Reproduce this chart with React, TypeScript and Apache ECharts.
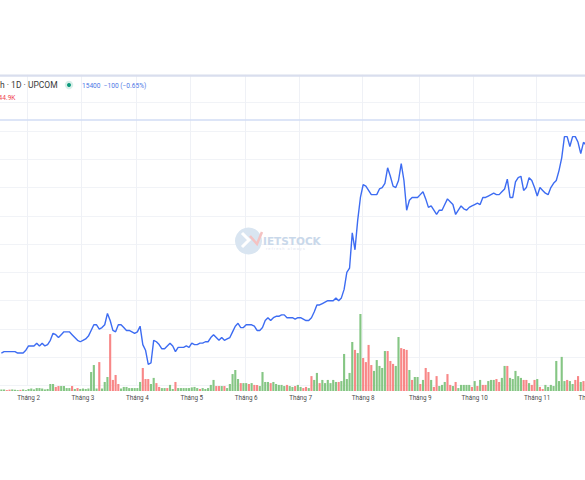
import React, { useEffect, useRef } from "react";
import * as echarts from "echarts";

// Month labels and the index of the first trading day of each month
const monthLabels = ["Tháng 2", "Tháng 3", "Tháng 4", "Tháng 5", "Tháng 6", "Tháng 7", "Tháng 8", "Tháng 9", "Tháng 10", "Tháng 11", "Tháng 12"];
const monthStartIndex = [10, 30, 50, 70, 90, 110, 133, 154, 174, 197, 217];
const dayCount = 218;

// Daily close (VND)
const closePrices = [
  8050, 8100, 8100, 8100, 8100, 8100, 8050, 8050, 8050, 8150,
  8300, 8300, 8300, 8400, 8300, 8400, 8300, 8350, 8500, 8750,
  8700, 8600, 8700, 8800, 8800, 8800, 8700, 8600, 8500, 8450,
  8500, 8550, 8650, 8850, 9050, 9050, 8900, 8950, 9050, 9450,
  9200, 8850, 8800, 9050, 9050, 8950, 8850, 8850, 8800, 8750,
  8800, 9000, 8350, 8150, 7650, 7700, 8500, 8450, 8350, 8200,
  8200, 8300, 8400, 8300, 8100, 8250, 8250, 8250, 8300, 8250,
  8400, 8350, 8350, 8400, 8400, 8450, 8450, 8600, 8700, 8600,
  8500, 8600, 8500, 8550, 8600, 8800, 9000, 9100, 8950, 8950,
  9050, 9050, 9050, 9000, 8850, 8850, 8950, 9200, 9300, 9200,
  9300, 9350, 9350, 9400, 9400, 9300, 9300, 9300, 9250, 9300,
  9300, 9250, 9200, 9200, 9300, 9500, 9750, 9750, 9800, 9850,
  9900, 9900, 9900, 10000, 9900, 10000, 10300, 10900, 11050, 12300,
  11700, 12750, 13550, 14000, 13950, 13800, 13650, 13650, 13650, 13850,
  13900, 14050, 14600, 14300, 13950, 13900, 14150, 14750, 14150, 13100,
  13450, 13550, 13550, 13550, 13650, 13750, 13500, 13200, 13250, 13100,
  12950, 13100, 13100, 13300, 13500, 13400, 13300, 12950, 13100, 13250,
  13150, 13100, 13200, 13250, 13300, 13350, 13300, 13550, 13550, 13600,
  13650, 13700, 13650, 13650, 13750, 13850, 14200, 13550, 13550, 14100,
  14250, 14300, 13800, 13900, 14250, 14150, 13900, 13600, 13900, 13800,
  13700, 13650, 13900, 14050, 14150, 14500, 14950, 15700, 15700, 15350,
  15700, 15700, 15500, 15100, 15500, 15400
];

// Daily volume (thousand shares)
const volumesK = [
  7, 7, 4, 6, 7, 6, 4, 5, 7, 4,
  9, 11, 7, 13, 13, 11, 7, 9, 31, 31,
  18, 22, 22, 22, 13, 13, 22, 9, 13, 9,
  11, 9, 11, 84, 115, 11, 128, 11, 40, 62,
  252, 49, 71, 31, 11, 18, 18, 13, 13, 13,
  13, 40, 102, 53, 53, 31, 58, 35, 18, 13,
  13, 13, 27, 9, 40, 13, 13, 13, 13, 13,
  16, 18, 13, 9, 13, 9, 13, 27, 49, 22,
  22, 22, 22, 13, 31, 75, 93, 53, 35, 35,
  35, 31, 35, 27, 27, 22, 84, 40, 40, 35,
  40, 31, 27, 27, 22, 27, 22, 18, 22, 27,
  18, 13, 18, 13, 66, 49, 80, 35, 49, 35,
  49, 35, 49, 40, 40, 44, 164, 53, 80, 217,
  182, 168, 341, 146, 128, 204, 115, 89, 137, 111,
  102, 177, 177, 133, 120, 111, 239, 190, 186, 182,
  93, 49, 62, 62, 31, 49, 102, 84, 49, 18,
  66, 22, 27, 40, 75, 27, 22, 40, 13, 27,
  27, 27, 27, 18, 44, 22, 49, 27, 27, 44,
  49, 49, 53, 40, 58, 111, 111, 58, 53, 89,
  66, 58, 49, 49, 35, 27, 49, 53, 18, 9,
  27, 18, 27, 22, 133, 44, 151, 44, 49, 44,
  31, 49, 66, 40, 44, 44.9
];

// 1 = session closed up (green volume), 0 = down (red volume)
const upDays = [
  1, 1, 0, 0, 1, 1, 1, 0, 1, 1,
  1, 1, 1, 1, 1, 1, 1, 1, 1, 1,
  0, 0, 1, 1, 1, 1, 0, 1, 0, 1,
  1, 1, 1, 1, 1, 1, 0, 1, 1, 1,
  0, 0, 0, 0, 1, 1, 1, 1, 1, 1,
  1, 1, 0, 0, 0, 1, 1, 0, 0, 1,
  1, 0, 1, 1, 0, 1, 1, 1, 1, 1,
  1, 1, 1, 0, 1, 1, 1, 1, 1, 0,
  0, 1, 0, 1, 1, 1, 1, 1, 0, 1,
  1, 0, 1, 0, 0, 1, 1, 1, 1, 0,
  1, 1, 1, 1, 1, 0, 1, 1, 0, 1,
  1, 0, 0, 1, 0, 1, 1, 0, 1, 1,
  1, 1, 1, 1, 0, 1, 1, 1, 1, 1,
  0, 1, 1, 0, 0, 0, 0, 1, 1, 1,
  1, 1, 0, 0, 0, 1, 1, 0, 0, 0,
  1, 0, 1, 1, 0, 1, 0, 0, 1, 0,
  0, 1, 1, 1, 0, 0, 1, 0, 1, 1,
  1, 1, 1, 0, 1, 0, 1, 0, 0, 1,
  1, 1, 0, 0, 1, 1, 0, 1, 1, 1,
  1, 1, 0, 0, 1, 0, 0, 1, 0, 0,
  1, 1, 1, 1, 1, 1, 1, 1, 0, 1,
  1, 0, 0, 1, 0, 0
];

const legendTitle = "h · 1D · UPCOM";
const legendQuote = "15400  −100 (−0.65%)";
const legendVolume = "44.9K";

const FONT = "Roboto, 'Liberation Sans', Arial, sans-serif";

export default function App() {
  const ref = useRef<HTMLDivElement>(null);

  useEffect(() => {
    if (!ref.current) return;
    const chart = echarts.init(ref.current, undefined, { renderer: "svg" });
    const categories = Array.from({ length: dayCount }, (_, i) => "d" + i);
    const isMonthStart = (idx: number) => monthStartIndex.indexOf(idx) >= 0;
    const gridLR = { left: 0, right: -8, outerBoundsMode: "none", containLabel: false };

    chart.setOption({
      animation: false,
      backgroundColor: "#ffffff",
      grid: [
        { ...gridLR, top: 74.4, bottom: 94.4 },
        { ...gridLR, top: 74.4, bottom: 94.4 },
        { ...gridLR, top: 120, bottom: 89 },
      ],
      xAxis: [
        {
          type: "category",
          gridIndex: 0,
          data: categories,
          boundaryGap: true,
          axisLine: { show: false },
          axisTick: { show: false },
          axisLabel: {
            interval: (idx: number) => isMonthStart(idx),
            formatter: (_v: string, idx: number) => {
              const k = monthStartIndex.indexOf(idx);
              return k >= 0 ? monthLabels[k] : "";
            },
            color: "#4a4a4a",
            fontSize: 6.3,
            fontFamily: FONT,
            margin: 9,
          },
          splitLine: {
            show: true,
            interval: (idx: number) => isMonthStart(idx),
            lineStyle: { color: "#eff1f6", width: 1 },
          },
        },
        { type: "category", gridIndex: 1, data: categories, boundaryGap: true, show: false },
        { type: "category", gridIndex: 2, data: categories, boundaryGap: true, show: false },
      ],
      yAxis: [
        {
          type: "value",
          gridIndex: 0,
          inverse: true,
          min: 0,
          max: 11,
          interval: 1,
          axisLine: { show: false },
          axisTick: { show: false },
          axisLabel: { show: false },
          splitLine: { show: true, lineStyle: { color: "#f1f3f7", width: 1 } },
        },
        { type: "value", gridIndex: 1, min: 6900, max: 17900, show: false, splitLine: { show: false } },
        { type: "value", gridIndex: 2, min: 0, max: 1200, show: false, splitLine: { show: false } },
      ],
      graphic: [
        { type: "line", z: 5, shape: { x1: 0, y1: 75.8, x2: 585, y2: 75.8 }, style: { stroke: "#d9deee", lineWidth: 2 } },
        { type: "line", z: 5, shape: { x1: 0, y1: 120, x2: 585, y2: 120 }, style: { stroke: "#d2ddf4", lineWidth: 1.5 } },
        { type: "text", z: 6, x: 0, y: 85, style: { text: legendTitle, fill: "#3a3a3a", font: `8.5px ${FONT}`, verticalAlign: "middle" } },
        { type: "circle", z: 6, shape: { cx: 69, cy: 85, r: 4.2 }, style: { fill: "#d7efe9" } },
        { type: "circle", z: 6, shape: { cx: 69, cy: 85, r: 2 }, style: { fill: "#0b9a7c" } },
        { type: "text", z: 6, x: 82, y: 85.5, style: { text: legendQuote, fill: "#4d76e6", font: `6.6px ${FONT}`, verticalAlign: "middle" } },
        { type: "text", z: 6, x: -1.5, y: 97.5, style: { text: legendVolume, fill: "#f0454f", font: `6.6px ${FONT}`, verticalAlign: "middle" } },
        // watermark
        { type: "circle", z: 1, shape: { cx: 248.5, cy: 241, r: 13.5 }, style: { fill: "#d9e5f1" } },
        { type: "polyline", z: 1, shape: { points: [[242, 233], [249, 240], [242, 247]] }, style: { stroke: "#ffffff", lineWidth: 3, fill: null } },
        { type: "polyline", z: 1, shape: { points: [[250, 236], [257, 244], [262, 232]] }, style: { stroke: "#f4c2c2", lineWidth: 2.5, fill: null } },
        { type: "text", z: 1, x: 263, y: 240.5, style: { text: "IETSTOCK", fill: "#c9d8ea", font: "bold 10.5px 'DejaVu Sans', sans-serif", verticalAlign: "middle" } },
        { type: "text", z: 1, x: 266, y: 248.5, style: { text: "r e f r e s h   a l w a y s", fill: "#dfe6ef", font: `4px ${FONT}`, verticalAlign: "middle" } },
      ],
      series: [
        {
          type: "bar",
          xAxisIndex: 2,
          yAxisIndex: 2,
          barCategoryGap: "22%",
          z: 2,
          data: volumesK.map((v, i) => ({
            value: v,
            itemStyle: { color: upDays[i] ? "#85c684" : "#f88787" },
          })),
        },
        {
          type: "line",
          xAxisIndex: 1,
          yAxisIndex: 1,
          data: closePrices,
          symbol: "none",
          z: 3,
          lineStyle: { color: "#3d6cf2", width: 1.4 },
        },
      ],
    });
    return () => chart.dispose();
  }, []);

  return (
    <div style={{ position: "fixed", left: 0, top: 0, width: 585, height: 480, background: "#fff", overflow: "hidden" }}>
      <div ref={ref} style={{ width: 585, height: 480 }} />
    </div>
  );
}
